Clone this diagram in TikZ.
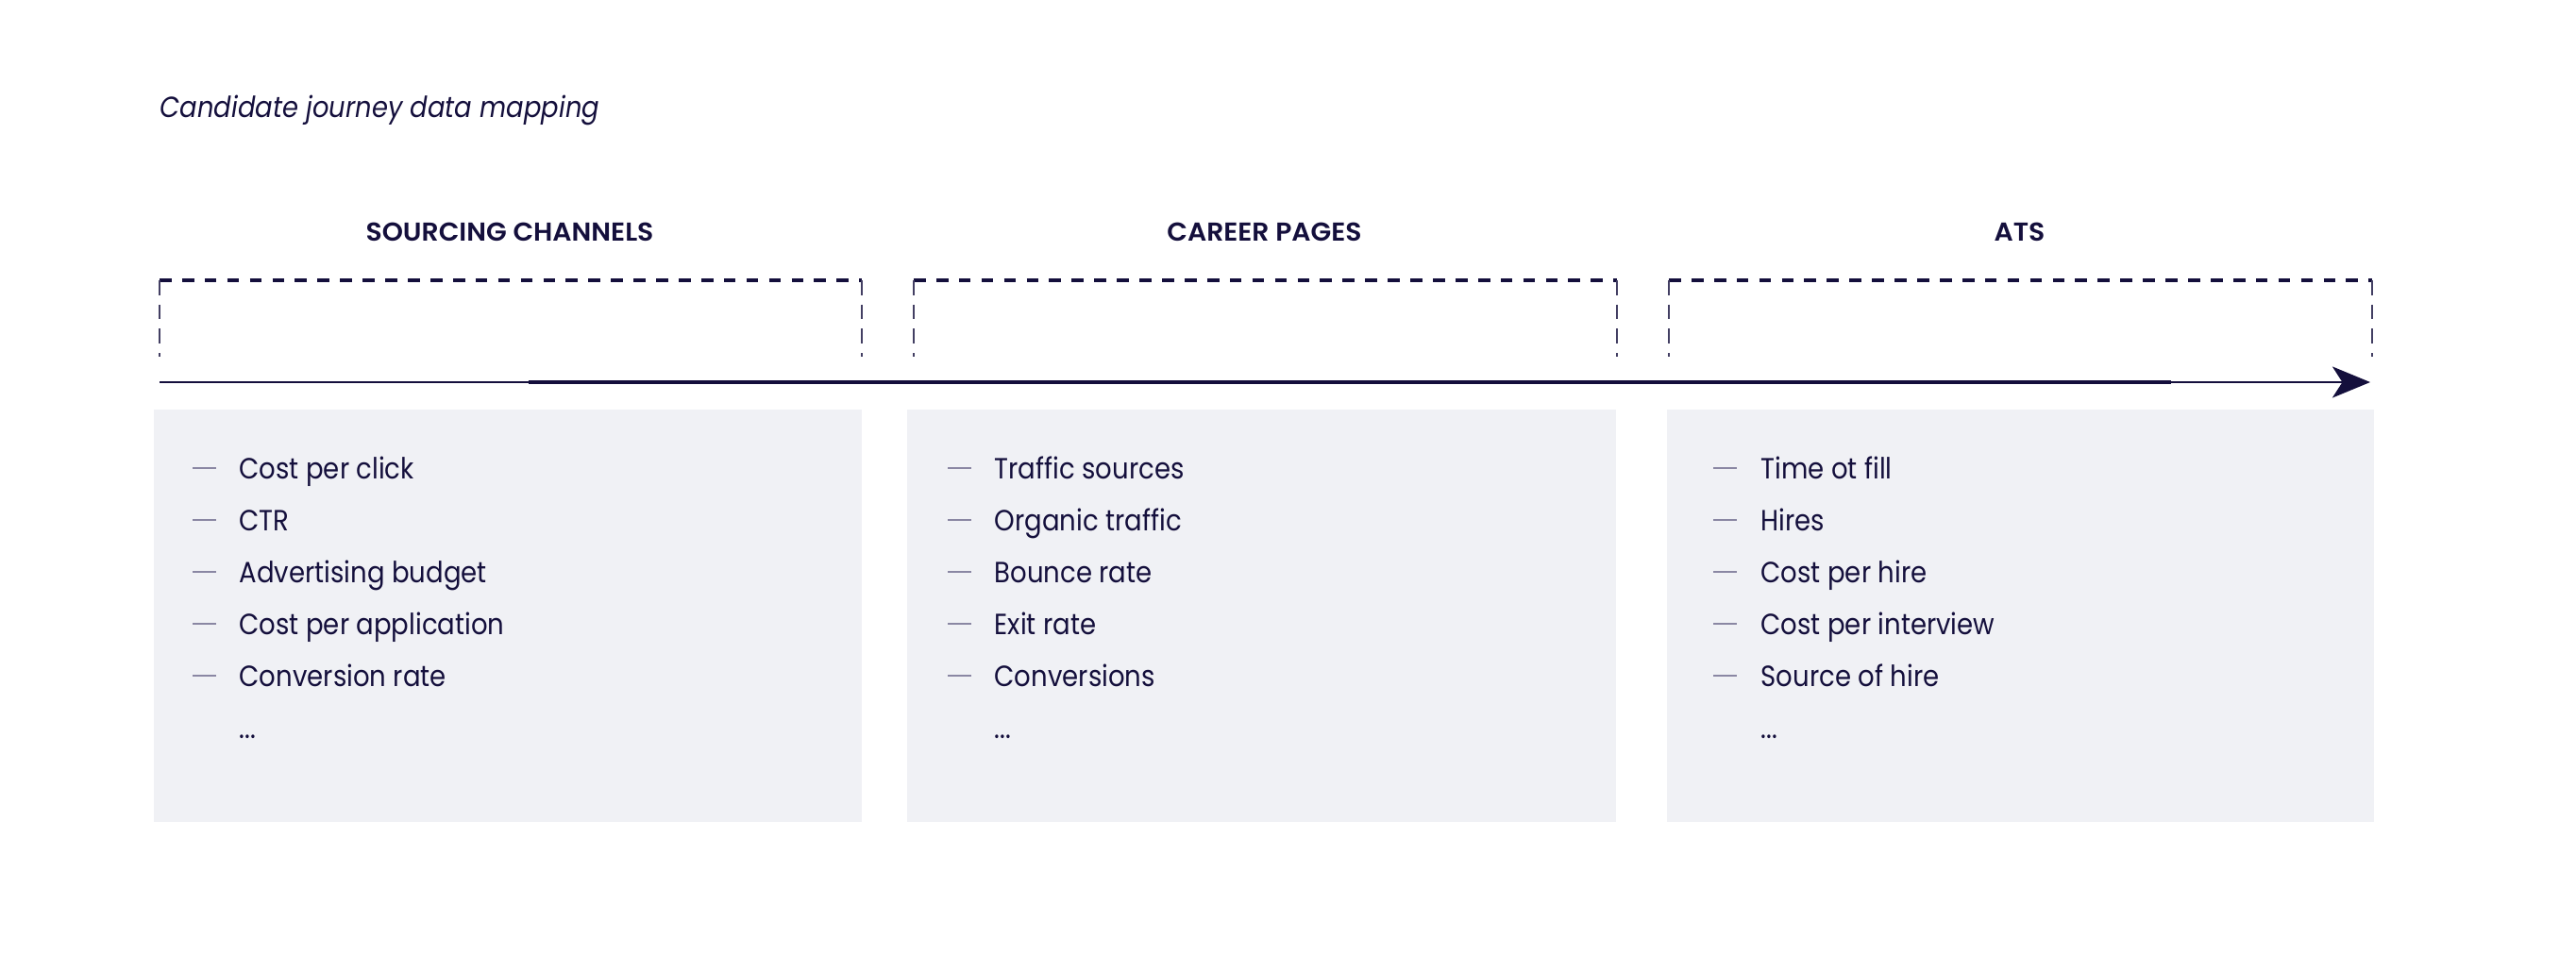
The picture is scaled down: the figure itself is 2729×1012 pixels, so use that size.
\documentclass[tikz,border=0pt]{standalone}
\usepackage{fontspec}
\setmainfont{Poppins}[FakeStretch=0.89]
\newfontfamily\headfont{Poppins SemiBold}[FakeStretch=1.03]
\usetikzlibrary{arrows.meta}
\definecolor{navy}{HTML}{140F3C}
\definecolor{panel}{HTML}{F0F1F5}
\definecolor{bullet}{HTML}{8A87A3}
\tikzset{
  titletext/.style={anchor=base west, inner sep=0pt, text=navy, font=\fontsize{8.76pt}{10pt}\selectfont\itshape},
  headtext/.style={anchor=base, inner sep=0pt, text=navy, font=\fontsize{7.8pt}{9pt}\headfont},
  itemtext/.style={anchor=base west, inner sep=0pt, text=navy, font=\fontsize{8.8pt}{10pt}\selectfont},
  panelbox/.style={fill=panel, draw=none, inner sep=0pt, anchor=north west},
  areabox/.style={draw=none, inner sep=0pt, anchor=north west},
  dashtop/.style={draw=navy, line width=1.05pt, dash pattern=on 3.6pt off 3.2pt},
  dashside/.style={draw=navy!80, line width=0.45pt, dash pattern=on 4.5pt off 2.8pt},
  bulletline/.style={draw=bullet, line width=0.55pt},
  flow/.style={draw=navy, line width=0.6pt, -{Stealth[length=11.4pt, width=9.4pt, inset=3pt]}},
}
\begin{document}
\begin{tikzpicture}[x=0.01cm, y=-0.01cm]
\useasboundingbox (0,0) rectangle (2729,1012);

% title
\node[titletext] (title) at (169,124) {Candidate journey data mapping};

% headers
\node[headtext] (h1) at (540,255) {SOURCING CHANNELS};
\node[headtext] (h2) at (1339.5,255) {CAREER PAGES};
\node[headtext] (h3) at (2139.5,255) {ATS};

% dashed areas (open at the bottom)
\node[areabox, minimum width=7.42cm, minimum height=0.80cm] (d1) at (169,297) {};
\node[areabox, minimum width=7.43cm, minimum height=0.80cm] (d2) at (968,297) {};
\node[areabox, minimum width=7.43cm, minimum height=0.80cm] (d3) at (1768,297) {};
\foreach \d in {d1,d2,d3}{
  \draw[dashtop] (\d.north west) -- (\d.north east);
  \draw[dashside] (\d.north west) -- (\d.south west);
  \draw[dashside] (\d.north east) -- (\d.south east);
}

% flow arrow
\coordinate (as) at (169,405);
\coordinate (ae) at (2511,405);
\draw[flow] (as) -- (ae);
\draw[navy, line width=1.3pt] (560,405) -- (2300,405);

% panels
\node[panelbox, minimum width=7.50cm, minimum height=4.37cm] (g1) at (162,433) {};
\node[panelbox, minimum width=7.51cm, minimum height=4.37cm] (g2) at (960,433) {};
\node[panelbox, minimum width=7.49cm, minimum height=4.37cm] (g3) at (1765,433) {};

% column 1
\foreach \t [count=\i from 0] in {Cost per click, CTR, Advertising budget, Cost per application, Conversion rate}{
  \node[itemtext] (a\i) at (253,507+55*\i) {\t};
  \draw[bulletline] (204,496+55*\i) -- (229,496+55*\i);
}
\node[itemtext] (a5) at (253,782) {...};

% column 2
\foreach \t [count=\i from 0] in {Traffic sources, Organic traffic, Bounce rate, Exit rate, Conversions}{
  \node[itemtext] (b\i) at (1053,507+55*\i) {\t};
  \draw[bulletline] (1004,496+55*\i) -- (1029,496+55*\i);
}
\node[itemtext] (b5) at (1053,782) {...};

% column 3
\foreach \t [count=\i from 0] in {Time ot fill, Hires, Cost per hire, Cost per interview, Source of hire}{
  \node[itemtext] (c\i) at (1865,507+55*\i) {\t};
  \draw[bulletline] (1815,496+55*\i) -- (1840,496+55*\i);
}
\node[itemtext] (c5) at (1865,782) {...};
\end{tikzpicture}
\end{document}
